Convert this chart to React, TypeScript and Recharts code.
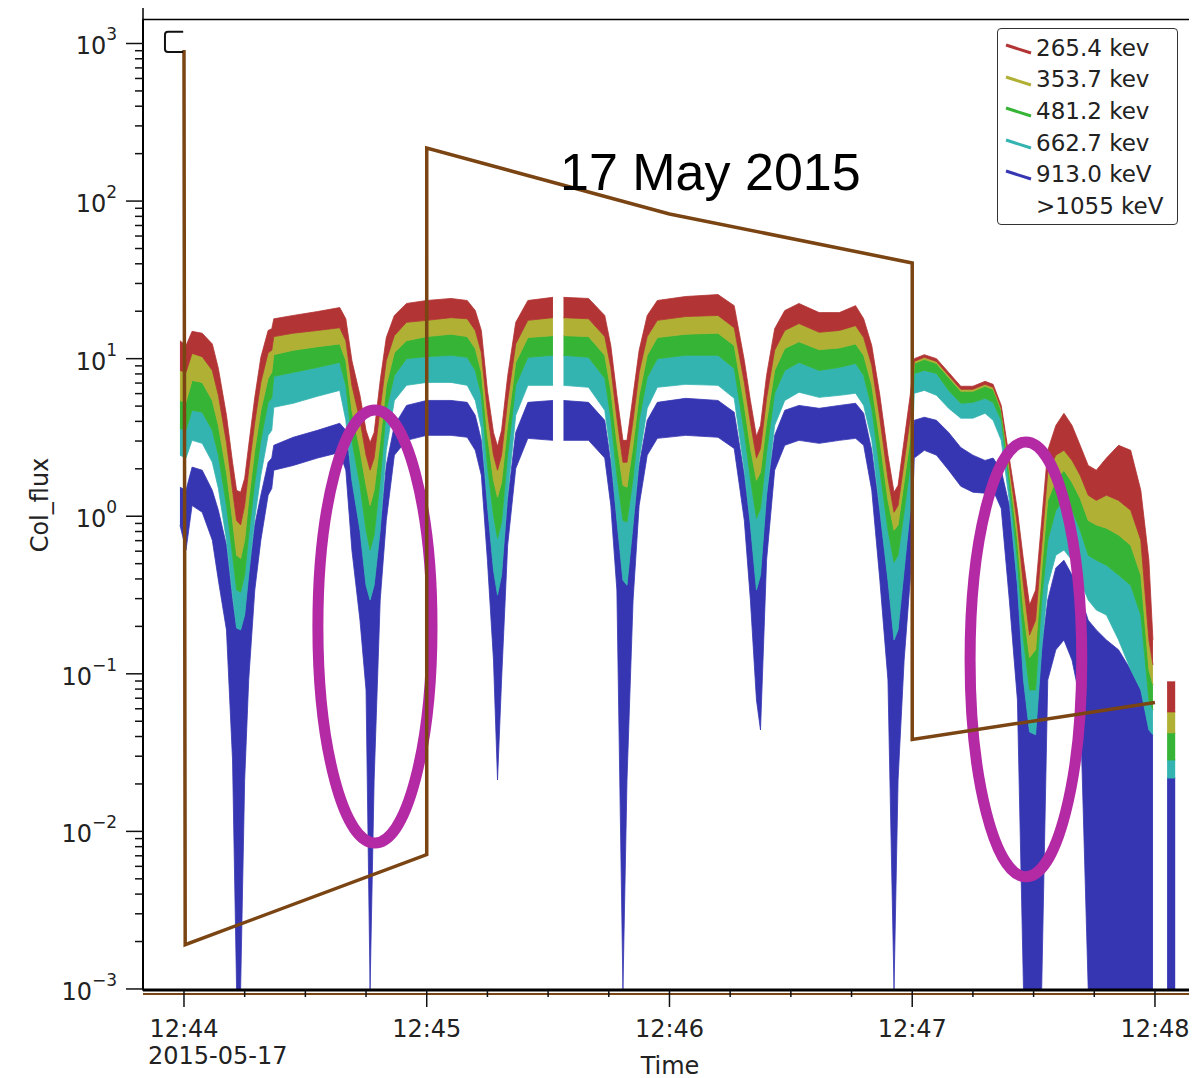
import React from 'react';
import { ComposedChart, Area, Line, XAxis, YAxis, ReferenceArea, ReferenceLine } from 'recharts';

// time in seconds after 12:44:00 UT, 2015-05-17
const TIME_S = [
  -1, 0.5, 2, 4.5, 7, 8.5, 10.5, 12, 13, 14, 15, 16, 17.5, 19, 20.8, 21.7, 22.2, 27, 33, 38.5,
  40, 41.5, 43.5, 45, 46, 47, 48.5, 50, 52, 55, 60, 66, 70, 72, 73.5, 75, 76.5, 77.5, 78.5, 80,
  82, 85, 91.2, 92.5, 93.8, 100, 104, 105.5, 107, 108.5, 109.5, 111, 112.5, 114.5, 117, 124, 132, 136, 138.5, 140,
  141.5, 142.5, 144, 146, 148.5, 152, 157, 162, 166, 168, 170, 172, 174, 175.5, 176.5, 178, 179.5, 180.5, 183, 186,
  189, 192, 195, 198, 200, 202, 204, 206, 207.5, 209, 210.5, 212, 213.5, 215.5, 217.5, 219.5, 221.5, 223.5, 225.5, 228,
  231, 234, 236.5, 238.5, 239.5, 241, 243, 245,
];

type Band = [number, number] | null;

// [low, high] flux envelope of each channel
const FLUX_265: Band[] = [
  [8.42, 13.0], [8.18, 12.1], [10.8, 14.9], [10.3, 14.5], [8.42, 12.4], [5.85, 8.67], [2.94, 4.37], [1.46, 2.2], [0.94, 1.46], [0.88, 1.42],
  [1.17, 1.74], [1.96, 2.82], [3.95, 5.68], [7.07, 10.2], [10.9, 15.1], [11.3, 15.5], [13.8, 17.9], [14.5, 18.8], [15.1, 19.9], [15.7, 21.1],
  [13.0, 17.9], [6.77, 9.74], [4.06, 5.85], [2.44, 3.51], [1.96, 2.94], [2.34, 3.40], [4.84, 7.28], [9.74, 13.6], [14.0, 18.8], [17.0, 22.4],
  [17.5, 23.4], [18.2, 24.1], [17.9, 23.4], [15.1, 20.2], [10.9, 15.1], [4.57, 6.29], [2.44, 3.40], [1.96, 2.78], [2.44, 3.51], [5.43, 7.72],
  [12.4, 17.0], [17.5, 23.4], [18.2, 24.5], null, [18.2, 24.5], [17.9, 24.1], [13.8, 18.8], [8.8, 12.1], [4.19, 5.85], [2.2, 3.03],
  [2.2, 3.03], [4.06, 5.85], [8.18, 11.3], [13.8, 18.8], [17.5, 23.4], [18.5, 24.8], [18.8, 25.5], [15.7, 21.7], [7.07, 9.74], [3.95, 5.43],
  [2.34, 3.21], [2.69, 3.77], [5.6, 7.83], [11.3, 15.5], [15.1, 20.2], [16.7, 22.4], [14.7, 19.6], [15.1, 19.6], [16.2, 21.7], [13.6, 17.9],
  [9.06, 12.1], [4.19, 5.85], [1.74, 2.44], [1.06, 1.42], [1.17, 1.57], [2.2, 3.03], [4.19, 5.85], [9.6, 10.0], [10.2, 10.6], [9.6, 10.0],
  [7.83, 8.18], [6.39, 6.68], [6.39, 6.68], [6.87, 7.18], [6.58, 6.87], [4.84, 5.05], [2.10, 2.34], [0.88, 1.09], [0.365, 0.526], [0.176, 0.273],
  [0.219, 0.34], [0.655, 0.94], [1.90, 2.62], [2.44, 3.77], [2.62, 4.50], [2.26, 3.77], [1.82, 2.82], [1.36, 2.10], [1.26, 1.96], [1.36, 2.34],
  [1.26, 2.82], [1.09, 2.62], [0.705, 1.46], [0.164, 0.526], [0.114, 0.164], null, [0.0573, 0.089], [0.0573, 0.089],
];

const FLUX_354: Band[] = [
  [5.43, 8.42], [5.28, 8.18], [7.28, 10.8], [7.07, 10.3], [5.43, 8.42], [3.77, 5.85], [1.90, 2.94], [0.94, 1.46], [0.566, 0.94], [0.54, 0.88],
  [0.705, 1.17], [1.26, 1.96], [2.62, 3.95], [4.70, 7.07], [7.5, 10.9], [8.18, 11.3], [10.6, 13.8], [11.3, 14.5], [11.9, 15.1], [12.4, 15.7],
  [9.74, 13.0], [4.70, 6.77], [2.62, 4.06], [1.57, 2.44], [1.17, 1.96], [1.46, 2.34], [3.03, 4.84], [6.77, 9.74], [10.9, 14.0], [13.0, 17.0],
  [13.8, 17.5], [14.3, 18.2], [13.8, 17.9], [11.6, 15.1], [8.18, 10.9], [3.26, 4.57], [1.69, 2.44], [1.32, 1.96], [1.64, 2.44], [3.77, 5.43],
  [9.47, 12.4], [13.6, 17.5], [14.0, 18.2], null, [14.0, 18.2], [13.8, 17.9], [10.5, 13.8], [6.29, 8.8], [2.94, 4.19], [1.57, 2.2],
  [1.53, 2.2], [2.82, 4.06], [5.85, 8.18], [10.5, 13.8], [13.6, 17.5], [14.3, 18.5], [14.5, 18.8], [12.1, 15.7], [5.05, 7.07], [2.73, 3.95],
  [1.69, 2.34], [1.90, 2.69], [3.95, 5.6], [8.42, 11.3], [11.6, 15.1], [12.8, 16.7], [11.4, 14.7], [11.7, 15.1], [12.4, 16.2], [10.5, 13.6],
  [6.77, 9.06], [3.03, 4.19], [1.26, 1.74], [0.815, 1.06], [0.88, 1.17], [1.64, 2.2], [3.12, 4.19], [9.33, 9.6], [9.9, 10.2], [9.33, 9.6],
  [7.6, 7.83], [6.2, 6.39], [6.2, 6.39], [6.68, 6.87], [6.39, 6.58], [4.70, 4.84], [1.90, 2.10], [0.705, 0.88], [0.254, 0.365], [0.127, 0.176],
  [0.142, 0.219], [0.455, 0.655], [1.26, 1.90], [1.69, 2.44], [1.96, 2.62], [1.64, 2.26], [1.30, 1.82], [0.94, 1.36], [0.88, 1.26], [0.84, 1.36],
  [0.76, 1.26], [0.655, 1.09], [0.423, 0.705], [0.106, 0.164], [0.085, 0.114], null, [0.0422, 0.0573], [0.0422, 0.0573],
];

const FLUX_481: Band[] = [
  [3.61, 5.43], [3.51, 5.28], [4.70, 7.28], [4.57, 7.07], [3.51, 5.43], [2.44, 3.77], [1.17, 1.90], [0.566, 0.94], [0.34, 0.566], [0.33, 0.54],
  [0.423, 0.705], [0.76, 1.26], [1.64, 2.62], [3.03, 4.70], [5.28, 7.5], [5.6, 8.18], [7.72, 10.6], [8.18, 11.3], [8.8, 11.9], [9.47, 12.4],
  [6.77, 9.74], [3.03, 4.70], [1.57, 2.62], [0.815, 1.57], [0.61, 1.17], [0.76, 1.46], [1.69, 3.03], [4.70, 6.77], [7.83, 10.9], [10.0, 13.0],
  [10.3, 13.8], [10.5, 14.3], [10.2, 13.8], [8.42, 11.6], [5.85, 8.18], [2.10, 3.26], [1.01, 1.69], [0.725, 1.32], [0.92, 1.64], [2.44, 3.77],
  [6.77, 9.47], [10.2, 13.6], [10.5, 14.0], null, [10.5, 14.0], [10.2, 13.8], [7.5, 10.5], [4.19, 6.29], [1.82, 2.94], [0.94, 1.57],
  [0.92, 1.53], [1.74, 2.82], [4.06, 5.85], [7.6, 10.5], [10.0, 13.6], [10.5, 14.3], [10.5, 14.5], [8.67, 12.1], [3.40, 5.05], [1.74, 2.73],
  [0.97, 1.69], [1.12, 1.90], [2.54, 3.95], [6.03, 8.42], [8.42, 11.6], [9.47, 12.8], [8.42, 11.4], [8.8, 11.7], [9.33, 12.4], [7.83, 10.5],
  [4.84, 6.77], [1.96, 3.03], [0.815, 1.26], [0.51, 0.815], [0.566, 0.88], [1.06, 1.64], [2.10, 3.12], [8.06, 9.33], [8.42, 9.9], [8.06, 9.33],
  [6.29, 7.6], [5.21, 6.2], [5.28, 6.2], [5.6, 6.68], [5.28, 6.39], [4.06, 4.70], [1.62, 1.90], [0.526, 0.705], [0.164, 0.254], [0.0789, 0.127],
  [0.0789, 0.142], [0.294, 0.455], [0.705, 1.26], [1.09, 1.69], [1.26, 1.96], [1.09, 1.64], [0.815, 1.30], [0.566, 0.94], [0.526, 0.88], [0.489, 0.84],
  [0.423, 0.76], [0.365, 0.655], [0.236, 0.423], [0.0682, 0.106], [0.059, 0.085], null, [0.0284, 0.0422], [0.0284, 0.0422],
];

const FLUX_663: Band[] = [
  [2.44, 3.61], [2.34, 3.51], [3.03, 4.70], [2.90, 4.57], [2.2, 3.51], [1.50, 2.44], [0.705, 1.17], [0.316, 0.566], [0.195, 0.34], [0.19, 0.33],
  [0.236, 0.423], [0.423, 0.76], [0.97, 1.64], [1.82, 3.03], [3.26, 5.28], [3.51, 5.6], [4.91, 7.72], [5.21, 8.18], [5.77, 8.8], [6.29, 9.47],
  [4.06, 6.77], [1.69, 3.03], [0.815, 1.57], [0.365, 0.815], [0.294, 0.61], [0.365, 0.76], [0.815, 1.69], [2.62, 4.70], [5.43, 7.83], [6.77, 10.0],
  [7.07, 10.3], [7.07, 10.5], [6.77, 10.2], [5.43, 8.42], [3.61, 5.85], [1.17, 2.10], [0.455, 1.01], [0.316, 0.725], [0.423, 0.92], [1.36, 2.44],
  [4.37, 6.77], [6.77, 10.2], [6.77, 10.5], null, [6.77, 10.5], [6.58, 10.2], [4.70, 7.5], [2.44, 4.19], [0.94, 1.82], [0.393, 0.94],
  [0.365, 0.92], [0.88, 1.74], [2.26, 4.06], [4.84, 7.6], [6.58, 10.0], [6.87, 10.5], [6.77, 10.5], [5.6, 8.67], [1.96, 3.40], [0.88, 1.74],
  [0.34, 0.97], [0.423, 1.12], [1.36, 2.54], [3.77, 6.03], [5.43, 8.42], [6.12, 9.47], [5.68, 8.42], [5.85, 8.8], [6.03, 9.33], [5.05, 7.83],
  [3.03, 4.84], [1.09, 1.96], [0.393, 0.815], [0.164, 0.51], [0.19, 0.566], [0.455, 1.06], [1.09, 2.10], [6.03, 8.06], [6.29, 8.42], [5.85, 8.06],
  [4.84, 6.29], [4.19, 5.21], [4.19, 5.28], [4.50, 5.6], [4.06, 5.28], [3.03, 4.06], [1.26, 1.62], [0.365, 0.526], [0.0914, 0.164], [0.0428, 0.0789],
  [0.041, 0.0789], [0.142, 0.294], [0.365, 0.705], [0.566, 1.09], [0.61, 1.26], [0.526, 1.09], [0.393, 0.815], [0.294, 0.566], [0.254, 0.526], [0.236, 0.489],
  [0.164, 0.423], [0.106, 0.365], [0.0789, 0.236], [0.044, 0.0682], [0.041, 0.059], null, [0.0218, 0.0284], [0.0218, 0.0284],
];

const FLUX_913: Band[] = [
  [0.88, 1.53], [0.61, 1.46], [1.17, 2.05], [1.06, 1.96], [0.705, 1.46], [0.393, 1.09], [0.19, 0.655], [0.0284, 0.294], [0.001, 0.195], [0.001, 0.19],
  [0.0212, 0.236], [0.0914, 0.423], [0.34, 0.88], [0.705, 1.36], [1.36, 2.2], [1.50, 2.34], [1.96, 2.82], [2.10, 3.17], [2.34, 3.51], [2.54, 3.89],
  [1.96, 3.51], [0.61, 1.69], [0.219, 0.815], [0.0789, 0.365], [0.001, 0.294], [0.0212, 0.365], [0.294, 0.815], [0.94, 2.10], [2.44, 3.77], [3.03, 5.05],
  [3.26, 5.43], [3.26, 5.43], [3.17, 5.28], [2.62, 4.37], [1.82, 3.03], [0.526, 1.17], [0.122, 0.455], [0.0212, 0.316], [0.0914, 0.423], [0.655, 1.26],
  [2.01, 3.40], [3.12, 5.28], [3.03, 5.43], null, [3.03, 5.43], [3.03, 5.28], [2.34, 4.06], [1.17, 2.2], [0.34, 0.94], [0.001, 0.393],
  [0.0212, 0.365], [0.294, 0.88], [1.17, 2.10], [2.44, 4.06], [3.12, 5.28], [3.26, 5.6], [3.17, 5.43], [2.69, 4.57], [0.94, 1.82], [0.294, 0.88],
  [0.0682, 0.34], [0.044, 0.423], [0.526, 1.36], [1.96, 3.26], [2.82, 4.70], [3.03, 5.05], [2.90, 4.84], [3.03, 5.05], [3.12, 5.21], [2.82, 4.50],
  [1.46, 2.62], [0.393, 1.06], [0.0914, 0.393], [0.001, 0.164], [0.0212, 0.19], [0.122, 0.455], [0.393, 1.06], [2.34, 4.06], [2.62, 4.25], [2.44, 4.06],
  [1.96, 3.40], [1.55, 2.73], [1.42, 2.44], [1.40, 2.26], [1.46, 2.34], [1.12, 1.96], [0.294, 1.17], [0.0682, 0.365], [0.001, 0.0914], [0.001, 0.0428],
  [0.001, 0.041], [0.001, 0.142], [0.0914, 0.294], [0.142, 0.47], [0.164, 0.526], [0.122, 0.423], [0.0682, 0.316], [0.001, 0.219], [0.001, 0.19], [0.001, 0.164],
  [0.001, 0.142], [0.001, 0.106], [0.001, 0.0789], [0.001, 0.044], [0.001, 0.041], null, [0.001, 0.0218], [0.001, 0.0218],
];

const SERIES_KEYS = ['f265', 'f354', 'f481', 'f663', 'f913'];
const SERIES_NAMES = ['265.4 kev', '353.7 kev', '481.2 kev', '662.7 kev', '913.0 keV', '>1055 keV'];
const SERIES_COLORS = ['#b23434', '#b0b034', '#36b436', '#34b4b1', '#3636b3', 'none'];

// annotation drawn over the data (brown trace)
const BROWN_T = [0, 0.3, 60, 60, 120, 180, 180, 240];
const BROWN_V = [910, 0.00191, 0.00713, 217, 82.8, 40.5, 0.0383, 0.0658];

// magenta ellipses [t1, t2, flux1, flux2]
const ELLIPSES = [
  [33.1, 61.3, 0.00845, 4.73],
  [194.3, 221.9, 0.00515, 2.96],
];

const X_MIN = -10.13;
const X_MAX = 249.4;
const Y_MIN = 0.000985;
const Y_MAX = 1420;
const X_MAJOR = [0, 60, 120, 180, 240];
const X_LABELS = ['12:44', '12:45', '12:46', '12:47', '12:48'];
const DATE_LABEL = '2015-05-17';
const X_TICKS = [0, 15, 30, 45, 60, 75, 90, 105, 120, 135, 150, 165, 180, 195, 210, 225, 240];
const Y_MAJOR = [0.001, 0.01, 0.1, 1, 10, 100, 1000];
const Y_TICKS: number[] = [];
Y_MAJOR.forEach((d) => {
  for (let m = 1; m <= 9; m++) {
    const v = +(m * d).toPrecision(3);
    if (v >= Y_MIN && v <= Y_MAX) Y_TICKS.push(v);
  }
});

const chartData = TIME_S.map((t, i) => ({
  t,
  f265: FLUX_265[i],
  f354: FLUX_354[i],
  f481: FLUX_481[i],
  f663: FLUX_663[i],
  f913: FLUX_913[i],
}));
const brownData = BROWN_T.map((t, i) => ({ t, v: BROWN_V[i] }));

const FONT = 'DejaVu Sans, Verdana, sans-serif';
const BROWN = '#7a4413';
const MAGENTA = '#b42aa5';

const XTick = (props: any) => {
  const { x, y, payload } = props;
  const idx = X_MAJOR.indexOf(payload.value);
  const major = idx >= 0;
  return (
    <g>
      <line x1={x} x2={x} y1={y} y2={y + (major ? 17 : 7)} stroke="#111" strokeWidth={1.5} />
      {major && (
        <text x={x} y={y + 47} textAnchor="middle" fontFamily={FONT} fontSize={24} fill="#222">
          {X_LABELS[idx]}
        </text>
      )}
      {idx === 0 && (
        <text x={x - 36} y={y + 74} textAnchor="start" fontFamily={FONT} fontSize={24} fill="#222">
          {DATE_LABEL}
        </text>
      )}
    </g>
  );
};

const YTick = (props: any) => {
  const { x, y, payload } = props;
  const v = payload.value;
  const lg = Math.log10(v);
  const e = Math.round(lg);
  const major = Math.abs(lg - e) < 1e-6;
  return (
    <g>
      <line x1={x - (major ? 17 : 8)} x2={x} y1={y} y2={y} stroke="#111" strokeWidth={1.5} />
      {major && (
        <text x={x - 26} y={y + 11} textAnchor="end" fontFamily={FONT} fontSize={24} fill="#222">
          10
          <tspan dy={-14} fontSize={17}>
            {e < 0 ? '\u2212' + -e : String(e)}
          </tspan>
        </text>
      )}
    </g>
  );
};

const EllipseShape = (props: any) => {
  const { x, y, width, height } = props;
  return (
    <ellipse
      cx={x + width / 2}
      cy={y + height / 2}
      rx={Math.abs(width) / 2}
      ry={Math.abs(height) / 2}
      fill="none"
      stroke={MAGENTA}
      strokeWidth={11}
    />
  );
};

const BracketShape = (props: any) => {
  const { x, y, width, height } = props;
  return (
    <path
      d={`M ${x + width} ${y} H ${x + 3} Q ${x} ${y} ${x} ${y + 3} V ${y + height - 3} Q ${x} ${y + height} ${x + 3} ${y + height} H ${x + width}`}
      fill="none"
      stroke="#111"
      strokeWidth={2}
    />
  );
};

const LegendBox = () => (
  <div
    style={{
      position: 'absolute',
      left: 989,
      top: 20,
      width: 181,
      height: 197,
      border: '1.5px solid #333',
      borderRadius: 4,
      background: '#fff',
      boxSizing: 'border-box',
      paddingTop: 3,
      fontFamily: FONT,
      fontSize: 23,
      color: '#222',
    }}
  >
    {SERIES_NAMES.map((name, i) => (
      <div key={name} style={{ height: 31.6, display: 'flex', alignItems: 'center', position: 'relative' }}>
        {SERIES_COLORS[i] !== 'none' && (
          <svg width={28} height={14} style={{ position: 'absolute', left: 7, top: 10 }}>
            <line x1={1} y1={3} x2={26} y2={11} stroke={SERIES_COLORS[i]} strokeWidth={3} />
          </svg>
        )}
        <span style={{ position: 'absolute', left: 38, whiteSpace: 'nowrap' }}>{name}</span>
      </div>
    ))}
  </div>
);

export default function App() {
  const drawOrder = [4, 3, 2, 1, 0];
  return (
    <div style={{ position: 'relative', width: 1189, height: 1070 }}>
      <ComposedChart
        width={1189}
        height={1070}
        data={chartData}
        margin={{ top: 11.5, right: 4, bottom: 8, left: 35 }}
      >
        <XAxis
          dataKey="t"
          type="number"
          domain={[X_MIN, X_MAX]}
          allowDataOverflow
          ticks={X_TICKS}
          interval={0}
          tick={(p: any) => <XTick {...p} />}
          tickLine={false}
          tickSize={0}
          tickMargin={0}
          axisLine={{ stroke: '#000', strokeWidth: 3 }}
          height={80}
        />
        <YAxis
          type="number"
          scale="log"
          domain={[Y_MIN, Y_MAX]}
          allowDataOverflow
          ticks={Y_TICKS}
          interval={0}
          tick={(p: any) => <YTick {...p} />}
          tickLine={false}
          tickSize={0}
          tickMargin={0}
          axisLine={{ stroke: '#000', strokeWidth: 2 }}
          width={100}
        />
        {drawOrder.map((i) => (
          <Area
            key={SERIES_KEYS[i]}
            dataKey={SERIES_KEYS[i]}
            name={SERIES_NAMES[i]}
            type="linear"
            stroke={SERIES_COLORS[i]}
            strokeWidth={0.8}
            fill={SERIES_COLORS[i]}
            fillOpacity={1}
            isAnimationActive={false}
            connectNulls={false}
            dot={false}
            activeDot={false}
          />
        ))}
        {ELLIPSES.map((e, i) => (
          <ReferenceArea
            key={'el' + i}
            x1={e[0]}
            x2={e[1]}
            y1={e[2]}
            y2={e[3]}
            ifOverflow="visible"
            shape={(p: any) => <EllipseShape {...p} />}
            zIndex={500}
          />
        ))}
        <Line
          data={brownData}
          dataKey="v"
          type="linear"
          stroke={BROWN}
          strokeWidth={3.5}
          dot={false}
          activeDot={false}
          isAnimationActive={false}
          zIndex={600}
        />
        <ReferenceArea
          x1={-4.7}
          x2={-0.2}
          y1={883}
          y2={1186}
          ifOverflow="visible"
          shape={(p: any) => <BracketShape {...p} />}
          zIndex={600}
        />
        <ReferenceLine y={0.00093} ifOverflow="visible" stroke={BROWN} strokeWidth={2} zIndex={600} />
        <ReferenceArea
          x1={X_MIN}
          x2={X_MAX}
          y1={Y_MIN}
          y2={Y_MAX}
          ifOverflow="visible"
          fill="none"
          fillOpacity={0}
          stroke="#000"
          strokeWidth={1.5}
          zIndex={700}
        />
        <ReferenceLine
          segment={[{ x: X_MIN, y: 1705 }, { x: 250.4, y: 1705 }]}
          ifOverflow="visible"
          stroke="#000"
          strokeWidth={1.5}
          zIndex={700}
        />
        <ReferenceLine
          segment={[{ x: X_MIN, y: 1705 }, { x: X_MIN, y: Y_MAX }]}
          ifOverflow="visible"
          stroke="#000"
          strokeWidth={1.5}
          zIndex={700}
        />
      </ComposedChart>
      <LegendBox />
      <div
        style={{
          position: 'absolute',
          left: 552,
          top: 138,
          fontFamily: 'Liberation Sans, Arial, sans-serif',
          fontSize: 52,
          lineHeight: '52px',
          color: '#000',
          whiteSpace: 'nowrap',
        }}
      >
        17 May 2015
      </div>
      <div
        style={{
          position: 'absolute',
          left: 32,
          top: 497,
          transform: 'translate(-50%, -50%) rotate(-90deg)',
          fontFamily: FONT,
          fontSize: 24,
          color: '#222',
          whiteSpace: 'nowrap',
        }}
      >
        Col_flux
      </div>
      <div
        style={{
          position: 'absolute',
          left: 662,
          top: 1058,
          transform: 'translate(-50%, -50%)',
          fontFamily: FONT,
          fontSize: 24,
          color: '#222',
          whiteSpace: 'nowrap',
        }}
      >
        Time
      </div>
    </div>
  );
}
